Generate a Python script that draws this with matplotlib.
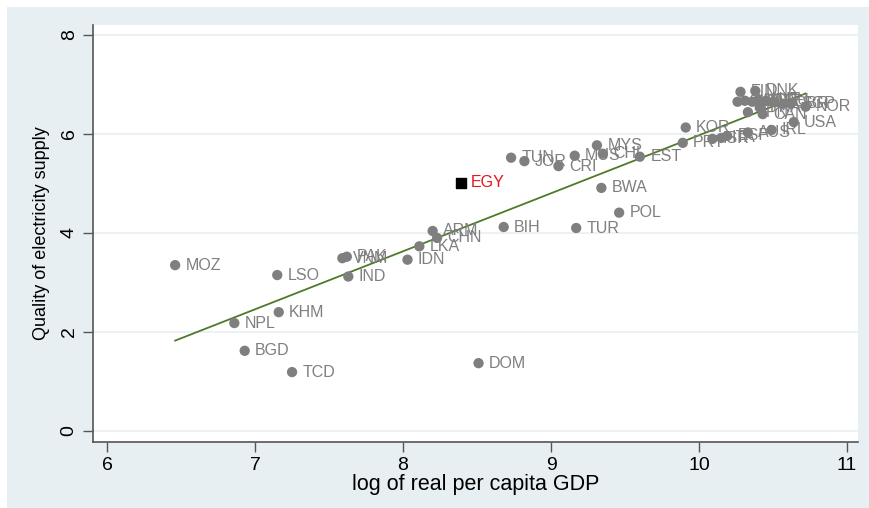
import numpy as np
import matplotlib
matplotlib.use("Agg")
import matplotlib.pyplot as plt
from matplotlib.patches import Rectangle

# Country codes, log real per-capita GDP and quality of electricity supply
countries = ["MOZ", "LSO", "NPL", "KHM", "BGD", "TCD", "IND", "VNM", "PAK", "IDN",
             "LKA", "ARM", "CHN", "BIH", "TUR", "POL", "DOM", "BWA", "TUN", "JOR",
             "CRI", "MUS", "MYS", "CHL", "EST", "KOR", "PRT", "ISR", "ITA", "ESP",
             "AUS", "IRL", "USA", "NOR", "CAN", "JPN", "FRA", "FIN", "DNK", "CHE",
             "NLD", "SWE", "AUT", "DEU", "BEL", "GBR", "SGP"]
log_gdp = [6.46, 7.15, 6.86, 7.16, 6.93, 7.25, 7.63, 7.59, 7.62, 8.03,
           8.11, 8.20, 8.23, 8.68, 9.17, 9.46, 8.51, 9.34, 8.73, 8.82,
           9.05, 9.16, 9.31, 9.35, 9.60, 9.91, 9.89, 10.09, 10.15, 10.19,
           10.33, 10.49, 10.64, 10.72, 10.43, 10.33, 10.41, 10.28, 10.38, 10.26,
           10.31, 10.36, 10.40, 10.45, 10.50, 10.57, 10.62]
elec_quality = [3.35, 3.15, 2.18, 2.40, 1.62, 1.19, 3.12, 3.49, 3.52, 3.46,
                3.73, 4.04, 3.90, 4.12, 4.10, 4.41, 1.37, 4.91, 5.52, 5.45,
                5.35, 5.56, 5.77, 5.60, 5.54, 6.13, 5.82, 5.90, 5.92, 5.96,
                6.03, 6.08, 6.24, 6.55, 6.40, 6.44, 6.53, 6.85, 6.87, 6.65,
                6.67, 6.65, 6.69, 6.67, 6.65, 6.61, 6.61]

# Highlighted country
focus_name = "EGY"
focus_gdp = 8.39
focus_quality = 5.01

x_ticks = [6, 7, 8, 9, 10, 11]
y_ticks = [0, 2, 4, 6, 8]

BG = "#e8eff2"
GRAY = "#7f7f7f"
LINE = "#4f7a28"
FONT = ["Liberation Sans", "DejaVu Sans"]
plt.rcParams["font.family"] = FONT

fig = plt.figure(figsize=(8.69, 5.08), dpi=100)
fig.patch.set_facecolor("white")
fig.add_artist(Rectangle((7 / 869, 0), 1, 1 - 7 / 508, transform=fig.transFigure,
                         facecolor=BG, edgecolor="none", zorder=0))

ax = fig.add_axes([93 / 869, 1 - 442 / 508, (858 - 93) / 869, (442 - 25) / 508])
ax.set_facecolor("white")

# Linear fit over all countries, drawn across the observed range
all_x = np.array(log_gdp + [focus_gdp])
all_y = np.array(elec_quality + [focus_quality])
slope, intercept = np.polyfit(all_x, all_y, 1)
xs = np.array([all_x.min(), all_x.max()])
ax.plot(xs, intercept + slope * xs, color=LINE, lw=1.3, zorder=3)

ax.scatter(log_gdp, elec_quality, s=55, color=GRAY, edgecolors="none", zorder=4)
for name, xv, yv in zip(countries, log_gdp, elec_quality):
    ax.annotate(name, (xv, yv), xytext=(7.5, 0), textcoords="offset points",
                va="center", ha="left", color=GRAY, fontsize=11.5, zorder=5)

ax.scatter([focus_gdp], [focus_quality], s=60, marker="s", color="black", zorder=6)
ax.annotate(focus_name, (focus_gdp, focus_quality), xytext=(7.5, 0),
            textcoords="offset points", va="center", ha="left", color="#e8141c",
            fontsize=11.5, zorder=6)

ax.set_xlim(5.905, 11.074)
ax.set_ylim(-0.222, 8.2)
ax.set_xticks(x_ticks)
ax.set_yticks(y_ticks)
ax.set_xticklabels([str(v) for v in x_ticks], fontsize=14)
ax.set_yticklabels([str(v) for v in y_ticks], fontsize=14, rotation=90, va="center")
ax.tick_params(direction="out", length=7, width=1, color="#555555", pad=4)
ax.grid(axis="y", color=BG, lw=1.2)
ax.set_axisbelow(True)
for side in ("top", "right"):
    ax.spines[side].set_visible(False)
for side in ("left", "bottom"):
    ax.spines[side].set_color("#555555")
    ax.spines[side].set_linewidth(1.2)

ax.set_xlabel("log of real per capita GDP", fontsize=15.5, labelpad=0)
ax.set_ylabel("Quality of electricity supply", fontsize=13, labelpad=8)

fig.savefig("out.png", dpi=100, facecolor=fig.get_facecolor())
